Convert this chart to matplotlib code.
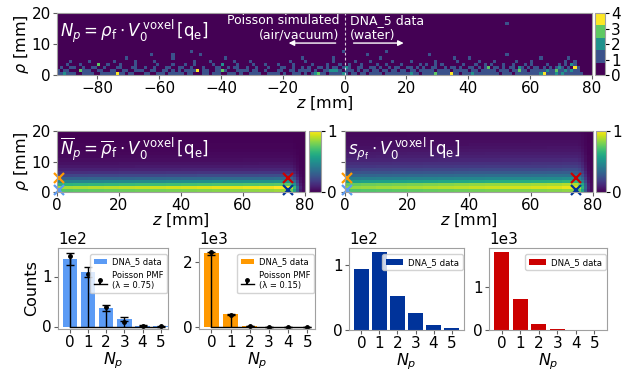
import numpy as np
import matplotlib
matplotlib.use("Agg")
import matplotlib.pyplot as plt

# top map: counts per 1 mm voxel, columns z = -93 ... 79, rows rho = 0 ... 19
z_edges = np.arange(-93, 81)
rho_edges = np.arange(0, 21)

row0 = ("1121110011" "1100111114" "1101100011" "0011101111" "1011000110" "1110011101"
        "0011110011" "1101001110" "1012311011" "1121011011" "0111101111" "1111211011"
        "1131111411" "0111211111" "1110111011" "1111112411" "1212111111" "000")
row1 = ("1011000311" "1001100110" "0110011100" "1100110101" "0111140110" "0113100011"
        "1101100100" "0110011011" "1101001122" "2101110101" "1011011011" "0110110111"
        "1101111011" "1110110111" "1101110113" "1101111121" "1311212110" "000")
row2 = ("0100110010" "0110010001" "1000110010" "0100011001" "1001000100" "0110010110"
        "0100100010" "0011001001" "0100110101" "1012100110" "0110100101" "1001101010"
        "0110010110" "1001101013" "0110101102" "1010110101" "0121010410" "000")
row3 = ("0001000100" "0003001000" "1000010000" "0010000100" "0100100000" "1002000010"
        "0001000100" "0100001000" "0010000100" "0100100010" "0001001000" "0100000101"
        "0010100000" "0100010010" "1000100100" "0101000010" "0010102100" "000")
row4 = ("0000100000" "1000000010" "0000010000" "0100000000" "0000100001" "0000000100"
        "0010000000" "0000010000" "1000000001" "0000001000" "0100000010" "0000100000"
        "0010000001" "0000001000" "0100000010" "0001000000" "0000100100" "000")
row5 = ("0000000000" "0000000000" "0010000000" "0000000100" "0000000000" "0000100000"
        "0000000000" "0000000001" "0000000001" "0000000000" "0000100000" "0000000000"
        "0000000010" "0001000000" "0000000000" "0000001000" "0000010000" "000")
rows_low = [row0, row1, row2, row3, row4, row5]

# isolated cells higher up
extra_z = [-63, -56, -47, -50, 7, 27, 52, -1, 13, 52]
extra_rho = [6, 6, 6, 7, 6, 6, 6, 7, 7, 16]
extra_val = [1, 1, 1, 1, 1, 1, 1, 1, 1, 1]

# mean / std maps (normalised), radial profile x axial profile
rho_mean = [0.82, 0.96, 0.72, 0.5, 0.34, 0.23, 0.15, 0.1, 0.07, 0.05,
            0.035, 0.025, 0.02, 0.015, 0.01, 0.01, 0.005, 0.005, 0.0, 0.0]
rho_std = [0.8, 0.93, 0.85, 0.62, 0.47, 0.36, 0.28, 0.22, 0.17, 0.14,
           0.11, 0.09, 0.075, 0.06, 0.05, 0.04, 0.035, 0.03, 0.025, 0.02]
z_blocks = [0.9, 0.91, 0.92, 0.93, 0.94, 0.95, 0.96, 0.97, 0.98, 0.99,
            1.0, 1.0, 1.01, 1.02, 1.04]          # 5 mm blocks, z = 0 ... 75
z_tail = [0.95, 0.7, 0.35, 0.1, 0.03]             # z = 75 ... 80

# voxels picked for the histograms
pick_z = [0.5, 0.5, 74.5, 74.5]
pick_rho = [0.5, 4.5, 4.5, 0.5]
pick_col = ["#5b9bf5", "#ff9900", "#cc0000", "#00339a"]

# histograms
Np = [0, 1, 2, 3, 4, 5]
h_lb = [135, 109, 37, 16, 2, 1]
h_lb_err = [12, 10.5, 6, 4, 1.4, 1]
pmf_lb = [142, 106, 40, 10, 1.9, 0.3]
h_or = [2280, 385, 30, 3, 0, 0]
h_or_err = [48, 20, 5.5, 1.7, 0, 0]
pmf_or = [2320, 350, 26, 1.3, 0.05, 0.0]
h_db = [93, 120, 52, 26, 8, 3]
h_rd = [1810, 710, 135, 12, 1, 0]

W, H = 630, 372
fig = plt.figure(figsize=(W / 100, H / 100), dpi=100)


def ax_px(x0, y0, x1, y1):
    return fig.add_axes([x0 / W, 1 - y1 / H, (x1 - x0) / W, (y1 - y0) / H])


def frame(ax):
    for s in ax.spines.values():
        s.set_color("#a0a0a0")
    ax.tick_params(labelsize=11, length=3, color="#606060", pad=1.5)


fs_lab = 11.5

# ---------------- top: single event map
counts = np.zeros((20, 173))
for r, s in enumerate(rows_low):
    s = s.ljust(173, "0")[:173]
    counts[r] = [int(c) for c in s]
for z, r, v in zip(extra_z, extra_rho, extra_val):
    counts[r, z + 93] = v

ax0 = ax_px(57, 13, 592, 75)
cmap5 = plt.get_cmap("viridis", 5)
pm = ax0.pcolormesh(z_edges, rho_edges, counts, cmap=cmap5, vmin=0, vmax=4)
ax0.set_xlim(-93, 80)
ax0.set_ylim(0, 20)
ax0.set_xticks(np.arange(-80, 81, 20))
ax0.set_yticks([0, 10, 20])
frame(ax0)
ax0.set_xlabel(r"$z$ [mm]", fontsize=fs_lab, labelpad=-1)
ax0.set_ylabel(r"$\rho$ [mm]", fontsize=fs_lab, labelpad=0)
ax0.text(-92, 18.5, r"$N_p = \rho_\mathrm{f} \cdot V_0^{\,\mathrm{voxel}}\,[\mathrm{q_e}]$",
         color="white", fontsize=12, va="top", ha="left")
ax0.axvline(0, color="white", lw=0.8, ls=(0, (2.5, 2)), alpha=0.8)
ax0.text(-1.8, 15.2, "Poisson simulated\n(air/vacuum)", color="white", fontsize=9,
         ha="right", va="center", multialignment="right")
ax0.text(1.8, 15.2, "DNA_5 data\n(water)", color="white", fontsize=9,
         ha="left", va="center", multialignment="left")
ax0.annotate("", xy=(-19, 10.3), xytext=(-2, 10.3),
             arrowprops=dict(arrowstyle="-|>", color="white", lw=1, mutation_scale=8))
ax0.annotate("", xy=(20, 10.3), xytext=(2, 10.3),
             arrowprops=dict(arrowstyle="-|>", color="white", lw=1, mutation_scale=8))
cax0 = ax_px(595, 13, 605, 75)
cb0 = fig.colorbar(pm, cax=cax0, ticks=[0, 1, 2, 3, 4])
cb0.outline.set_edgecolor("#a0a0a0")
cax0.tick_params(labelsize=11, length=3, pad=1.5)

# ---------------- middle: mean and std maps
zprof = np.concatenate([np.repeat(z_blocks, 5), z_tail])
mean_map = np.clip(np.outer(rho_mean, zprof), 0, 1)
std_map = np.clip(np.outer(rho_std, zprof), 0, 1)
zz = np.arange(0, 81)

ax1 = ax_px(57, 131, 305, 192)
ax2 = ax_px(345, 131, 593, 192)
for ax, data, txt in [
        (ax1, mean_map,
         r"$\overline{N}_p = \overline{\rho}_\mathrm{f} \cdot V_0^{\,\mathrm{voxel}}\,[\mathrm{q_e}]$"),
        (ax2, std_map,
         r"$s_{\rho_\mathrm{f}} \cdot V_0^{\,\mathrm{voxel}}\,[\mathrm{q_e}]$")]:
    im = ax.pcolormesh(zz, rho_edges, data, cmap="viridis", vmin=0, vmax=1)
    ax.set_xlim(0, 80)
    ax.set_ylim(0, 20)
    ax.set_xticks([0, 20, 40, 60, 80])
    ax.set_yticks([0, 10, 20])
    frame(ax)
    ax.set_xlabel(r"$z$ [mm]", fontsize=fs_lab, labelpad=-1)
    ax.text(1, 18.5, txt, color="white", fontsize=12, va="top", ha="left")
    for z, r, c in zip(pick_z, pick_rho, pick_col):
        ax.plot(z, r, "x", color=c, ms=7, mew=1.6, clip_on=False)
ax1.set_ylabel(r"$\rho$ [mm]", fontsize=fs_lab, labelpad=0)
ax2.set_yticklabels([])

for cpos in [(309, 131, 321, 192), (596, 131, 606, 192)]:
    cax = ax_px(*cpos)
    cb = fig.colorbar(im, cax=cax, ticks=[0, 1])
    cb.outline.set_edgecolor("#a0a0a0")
    cax.tick_params(labelsize=11, length=3, pad=1.5)

# ---------------- bottom: histograms per voxel
b1 = ax_px(58, 248, 168, 329)
b2 = ax_px(199, 248, 315, 329)
b3 = ax_px(349, 248, 464, 330)
b4 = ax_px(489, 248, 607, 330)

panels = [
    (b1, h_lb, h_lb_err, pmf_lb, "#5b9bf5", "0.75", [0, 100], (-5, 157), 6.0, 1.6),
    (b2, h_or, h_or_err, pmf_or, "#ff9900", "0.15", [0, 2000], (-70, 2440), 6.0, 1.6),
    (b3, h_db, None, None, "#00339a", None, [0, 100], None, 6.2, 2.0),
    (b4, h_rd, None, None, "#cc0000", None, [0, 1000], None, 6.2, 2.0),
]
for ax, h, err, pmf, col, lam, yt, yl, lfs, hl in panels:
    ax.bar(Np, h, color=col, width=0.8, label="DNA_5 data")
    if err is not None:
        ax.errorbar(Np, h, yerr=err, fmt="none", ecolor="black", elinewidth=1,
                    capsize=3, capthick=1)
    if pmf is not None:
        ml, sl, bl = ax.stem(Np, pmf, linefmt="k-", markerfmt="k.", basefmt="k-",
                             label="Poisson PMF\n(\u03bb = " + lam + ")")
        ml.set_markersize(5)
        sl.set_linewidth(1)
        bl.set_linewidth(1)
        ax.set_xlim(-0.65, 5.4)
    if yl is not None:
        ax.set_ylim(*yl)
    ax.set_xticks(Np)
    ax.set_yticks(yt)
    ax.ticklabel_format(axis="y", style="sci", scilimits=(0, 0))
    ax.yaxis.get_offset_text().set_fontsize(11)
    frame(ax)
    ax.set_xlabel(r"$N_p$", fontsize=fs_lab, labelpad=0)
    leg = ax.legend(loc="upper right", bbox_to_anchor=(1.0, 0.94), fontsize=lfs,
                    borderaxespad=0.15, handlelength=hl, handletextpad=0.6)
    leg.get_frame().set_edgecolor("#c8c8c8")
b1.set_ylabel("Counts", fontsize=fs_lab, labelpad=2)

fig.savefig("out.png", dpi=100)
